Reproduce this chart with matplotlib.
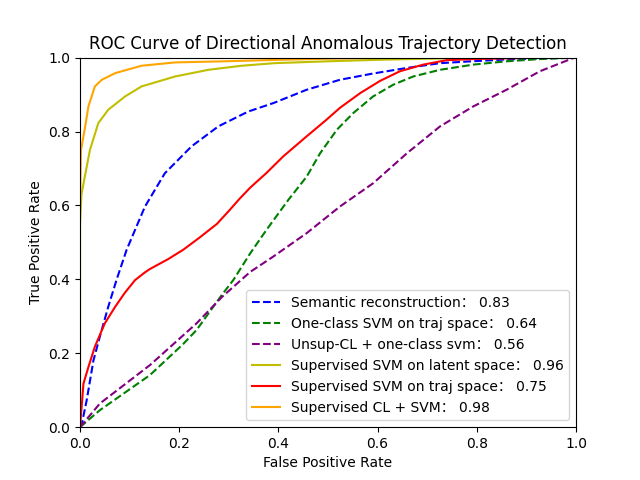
import numpy as np
import matplotlib
matplotlib.use('Agg')
import matplotlib.pyplot as plt

plt.rcParams['font.family'] = ['DejaVu Sans', 'Noto Sans CJK SC']

# ROC points (fpr, tpr)
sem_fpr = [0.0, 0.003, 0.0135, 0.027, 0.04, 0.057, 0.074, 0.094, 0.131, 0.171, 0.225, 0.279, 0.339,
           0.39, 0.457, 0.524, 0.591, 0.659, 0.726, 0.79, 0.86, 0.93, 1.0]
sem_tpr = [0.0, 0.005, 0.073, 0.18, 0.245, 0.326, 0.40, 0.48, 0.597, 0.687, 0.76, 0.814, 0.854,
           0.877, 0.913, 0.94, 0.957, 0.972, 0.985, 0.99, 0.995, 0.998, 1.0]

ocsvm_fpr = [0.0, 0.04, 0.141, 0.208, 0.235, 0.286, 0.309, 0.343, 0.376, 0.42, 0.457, 0.484, 0.518,
             0.551, 0.591, 0.632, 0.672, 0.726, 0.793, 0.86, 0.927, 1.0]
ocsvm_tpr = [0.0, 0.046, 0.141, 0.225, 0.263, 0.358, 0.398, 0.47, 0.534, 0.615, 0.678, 0.741, 0.805,
             0.85, 0.895, 0.927, 0.949, 0.967, 0.981, 0.99, 0.996, 1.0]

unsup_fpr = [0.0, 0.04, 0.141, 0.235, 0.286, 0.343, 0.39, 0.457, 0.524, 0.591, 0.659, 0.726, 0.793,
             0.86, 0.927, 0.995, 1.0]
unsup_tpr = [0.0, 0.064, 0.168, 0.281, 0.352, 0.42, 0.462, 0.525, 0.597, 0.66, 0.741, 0.814, 0.868,
             0.913, 0.963, 0.999, 1.0]

svm_lat_fpr = [0.0, 0.0, 0.003, 0.01, 0.02, 0.037, 0.057, 0.091, 0.124, 0.192, 0.259, 0.326, 0.393,
               0.5, 0.6, 0.7, 0.8, 1.0]
svm_lat_tpr = [0.0, 0.55, 0.63, 0.68, 0.75, 0.823, 0.859, 0.895, 0.922, 0.949, 0.967, 0.978, 0.985,
               0.99, 0.994, 0.997, 0.999, 1.0]

svm_traj_fpr = [0.0, 0.007, 0.017, 0.03, 0.05, 0.071, 0.09, 0.111, 0.131, 0.141, 0.178, 0.208, 0.24,
                0.276, 0.30, 0.321, 0.343, 0.376, 0.41, 0.457, 0.497, 0.524, 0.565, 0.605, 0.645, 0.692,
                0.739, 0.793, 0.9, 1.0]
svm_traj_tpr = [0.0, 0.118, 0.163, 0.218, 0.281, 0.326, 0.363, 0.398, 0.419, 0.428, 0.455, 0.48, 0.512,
                0.55, 0.585, 0.617, 0.648, 0.688, 0.733, 0.787, 0.832, 0.864, 0.904, 0.937, 0.963, 0.981,
                0.993, 0.996, 0.999, 1.0]

cl_fpr = [0.0, 0.0, 0.002, 0.006, 0.01, 0.017, 0.03, 0.044, 0.071, 0.124, 0.192, 0.292, 0.4, 0.5, 0.6, 1.0]
cl_tpr = [0.0, 0.6, 0.75, 0.78, 0.81, 0.868, 0.922, 0.94, 0.958, 0.978, 0.987, 0.99, 0.994, 0.997, 0.999, 1.0]

names = ["Semantic reconstruction", "One-class SVM on traj space", "Unsup-CL + one-class svm",
         "Supervised SVM on latent space", "Supervised SVM on traj space", "Supervised CL + SVM"]
aucs = [0.83, 0.64, 0.56, 0.96, 0.75, 0.98]

curves = [(sem_fpr, sem_tpr, 'b', '--'),
          (ocsvm_fpr, ocsvm_tpr, 'g', '--'),
          (unsup_fpr, unsup_tpr, 'purple', '--'),
          (svm_lat_fpr, svm_lat_tpr, 'y', '-'),
          (svm_traj_fpr, svm_traj_tpr, 'r', '-'),
          (cl_fpr, cl_tpr, 'orange', '-')]

fig, ax = plt.subplots(figsize=(6.4, 4.8), dpi=100)

for (fpr, tpr, color, ls), name, auc in zip(curves, names, aucs):
    ax.plot(fpr, tpr, color=color, linestyle=ls, label='%s： %.2f' % (name, auc))

ax.set_xlim([0.0, 1.0])
ax.set_ylim([0.0, 1.0])
ax.set_xlabel('False Positive Rate')
ax.set_ylabel('True Positive Rate')
ax.set_title('ROC Curve of Directional Anomalous Trajectory Detection')
ax.legend(loc='lower right')

fig.savefig('out.png')
